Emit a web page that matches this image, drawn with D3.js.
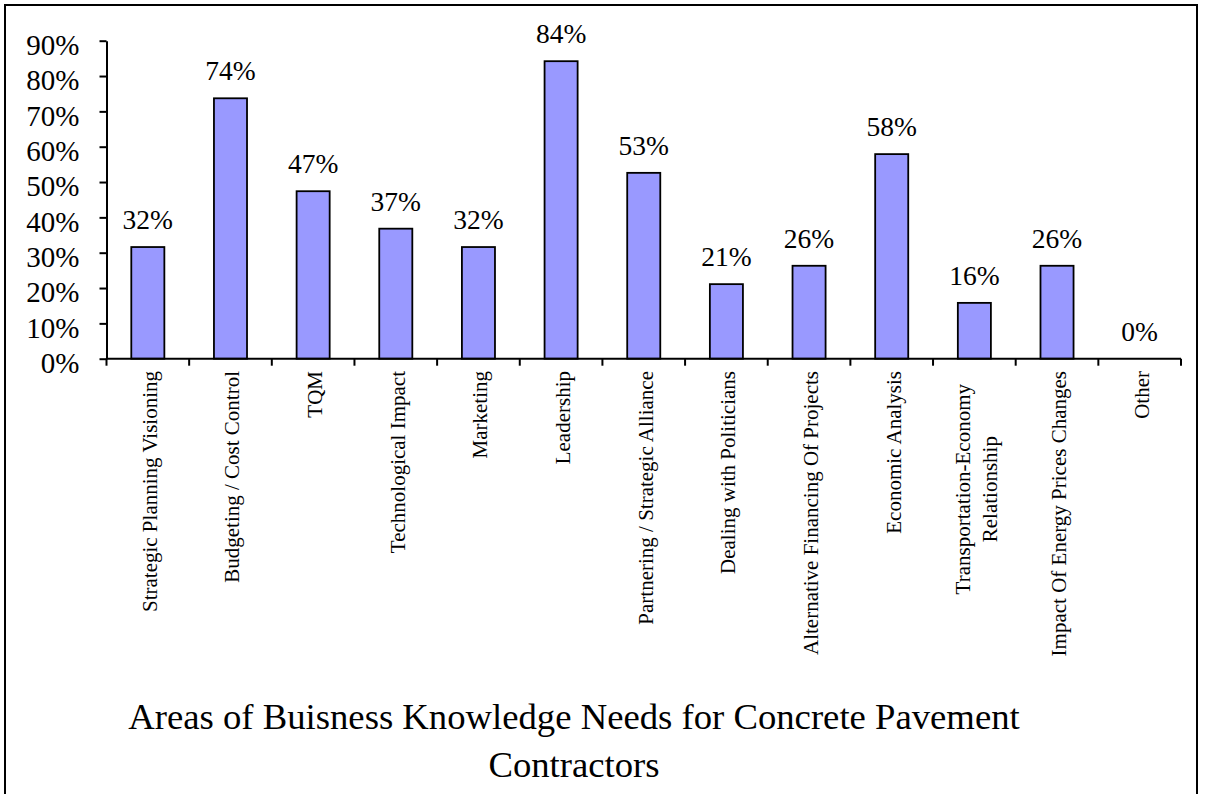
<!DOCTYPE html>
<html>
<head>
<meta charset="utf-8">
<script src="https://cdn.jsdelivr.net/npm/d3@7/dist/d3.min.js"></script>
<style>
  html, body { margin: 0; padding: 0; background: #fff; }
  svg { display: block; }
  text { font-family: "Liberation Serif", "Times New Roman", serif; fill: #000; }
</style>
</head>
<body>
<svg id="chart" width="1206" height="794"></svg>
<script>
// ---- data ----
const categories = [
  ["Strategic Planning Visioning"],
  ["Budgeting / Cost Control"],
  ["TQM"],
  ["Technological Impact"],
  ["Marketing"],
  ["Leadership"],
  ["Partnering / Strategic Alliance"],
  ["Dealing with Politicians"],
  ["Alternative Financing Of Projects"],
  ["Economic Analysis"],
  ["Transportation-Economy", "Relationship"],
  ["Impact Of Energy Prices Changes"],
  ["Other"]
];
const values = [31.6, 73.7, 47.4, 36.8, 31.6, 84.2, 52.6, 21.1, 26.3, 57.9, 15.8, 26.3, 0];
const yTicks = [0, 10, 20, 30, 40, 50, 60, 70, 80, 90];
const titleLines = ["Areas of Buisness Knowledge Needs for Concrete Pavement", "Contractors"];

// ---- layout ----
const svg = d3.select("#chart");
const plot = { left: 106.5, right: 1181, top: 40.7, bottom: 358.7 };

// outer border
svg.append("rect")
  .attr("x", 5).attr("y", 5)
  .attr("width", 1192).attr("height", 800)
  .attr("fill", "none").attr("stroke", "#000").attr("stroke-width", 2);

const keys = categories.map(c => c.join(" "));
const x = d3.scaleBand().domain(keys).range([plot.left, plot.right])
  .paddingInner(0.6).paddingOuter(0.3);
const y = d3.scaleLinear().domain([0, 90]).range([plot.bottom, plot.top]);

// bars
svg.append("g").selectAll("rect").data(values).join("rect")
  .attr("x", (d, i) => x(keys[i]))
  .attr("y", d => y(d))
  .attr("width", x.bandwidth())
  .attr("height", d => y(0) - y(d))
  .attr("fill", "#9999FF")
  .attr("stroke", "#000")
  .attr("stroke-width", 1.8);

// y axis
const yAxis = d3.axisLeft(y).tickValues(yTicks).tickFormat(d => d + "%")
  .tickSize(7).tickSizeOuter(0).tickPadding(20);
const gy = svg.append("g").attr("transform", `translate(${plot.left},0)`).call(yAxis);
gy.select(".domain").attr("stroke", "#000").attr("stroke-width", 2);
gy.selectAll(".tick line").attr("stroke", "#000").attr("stroke-width", 2);
gy.selectAll(".tick text")
  .style("font-family", '"Liberation Serif", "Times New Roman", serif')
  .style("font-size", "29px").attr("fill", "#000").attr("dy", "0.48em");

// x axis: ticks at band boundaries
const step = x.step();
const x0 = x(keys[0]) - x.paddingOuter() * step;
const boundaries = d3.range(keys.length + 1).map(i => x0 + i * step);
const gx = svg.append("g");
gx.append("line")
  .attr("x1", plot.left).attr("x2", boundaries[boundaries.length - 1])
  .attr("y1", y(0)).attr("y2", y(0))
  .attr("stroke", "#000").attr("stroke-width", 2);
gx.selectAll("line.tk").data(boundaries).join("line").attr("class", "tk")
  .attr("x1", d => d).attr("x2", d => d)
  .attr("y1", y(0)).attr("y2", y(0) + 7)
  .attr("stroke", "#000").attr("stroke-width", 2);

// category labels (rotated)
const catFont = 21;
const lineGap = 26.7;
categories.forEach((lines, i) => {
  const cx = x(keys[i]) + x.bandwidth() / 2;
  const n = lines.length;
  if (n === 1) {
    svg.append("text")
      .attr("transform", `translate(${cx},371) rotate(-90)`)
      .attr("text-anchor", "end")
      .attr("dy", "0.42em")
      .style("font-size", catFont + "px")
      .text(lines[0]);
  } else {
    const g = svg.append("g");
    const texts = lines.map((t, j) => {
      const off = (j - (n - 1) / 2) * lineGap;
      return g.append("text")
        .attr("text-anchor", "middle")
        .attr("dy", "0.42em")
        .style("font-size", catFont + "px")
        .attr("data-off", off)
        .text(t);
    });
    const maxW = d3.max(texts, t => t.node().getComputedTextLength());
    const cy = 384 + maxW / 2;
    texts.forEach(t => {
      const off = +t.attr("data-off");
      t.attr("transform", `translate(${cx + off},${cy}) rotate(-90)`);
    });
  }
});

// value labels
const fmt = d3.format(".0f");
svg.append("g").selectAll("text").data(values).join("text")
  .attr("x", (d, i) => x(keys[i]) + x.bandwidth() / 2)
  .attr("y", d => y(d) - 18)
  .attr("text-anchor", "middle")
  .style("font-size", "27.5px")
  .text(d => fmt(d) + "%");

// title
svg.append("g").selectAll("text").data(titleLines).join("text")
  .attr("x", 574)
  .attr("y", (d, i) => 729 + i * 48)
  .attr("text-anchor", "middle")
  .style("font-size", "36.7px")
  .text(d => d);
</script>
</body>
</html>
